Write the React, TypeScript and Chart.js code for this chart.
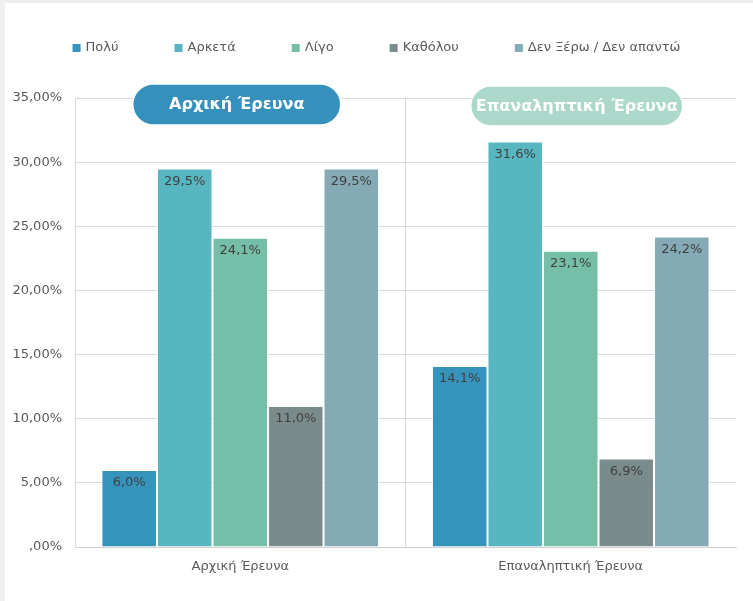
import React, { useEffect, useRef } from 'react';
import { Chart, registerables } from 'chart.js';

Chart.register(...registerables);

// ---- data ----
const categories = ['Αρχική Έρευνα', 'Επαναληπτική Έρευνα'];
const seriesNames = ['Πολύ', 'Αρκετά', 'Λίγο', 'Καθόλου', 'Δεν Ξέρω / Δεν απαντώ'];
const polyValues = [6.0, 14.1];
const arketaValues = [29.5, 31.6];
const ligoValues = [24.1, 23.1];
const katholouValues = [11.0, 6.9];
const denXeroValues = [29.5, 24.2];
const yTickLabels = [',00%', '5,00%', '10,00%', '15,00%', '20,00%', '25,00%', '30,00%', '35,00%'];
const pillTitles = ['Αρχική Έρευνα', 'Επαναληπτική Έρευνα'];

// ---- styles ----
const seriesColors = ['#3593bc', '#58b6c0', '#75bea8', '#7a8b8c', '#84abb5'];
const pillColors = ['#3591bb', '#acd8cc'];
const pillStyle = [
  { dx: -3.5, dy: 6.5, w: 208, h: 41 },
  { dx: 6, dy: 8, w: 212, h: 40 },
];
const FONT = '"DejaVu Sans", sans-serif';
const TEXT = '#595959';
const LABEL = '#404040';
const GRID = '#d9d9d9';

const fmt = (v: number) => v.toFixed(1).replace('.', ',') + '%';

function pillPath(ctx: CanvasRenderingContext2D, x: number, y: number, w: number, h: number) {
  const r = h / 2;
  ctx.beginPath();
  ctx.moveTo(x + r, y);
  ctx.lineTo(x + w - r, y);
  ctx.arc(x + w - r, y + r, r, -Math.PI / 2, Math.PI / 2);
  ctx.lineTo(x + r, y + h);
  ctx.arc(x + r, y + r, r, Math.PI / 2, (3 * Math.PI) / 2);
  ctx.closePath();
}

const overlayPlugin = {
  id: 'overlay',
  afterDatasetsDraw(chart: any) {
    const ctx = chart.ctx as CanvasRenderingContext2D;
    ctx.save();
    // data labels
    ctx.font = '13px ' + FONT;
    ctx.fillStyle = LABEL;
    ctx.textAlign = 'center';
    ctx.textBaseline = 'middle';
    chart.data.datasets.forEach((ds: any, di: number) => {
      const meta = chart.getDatasetMeta(di);
      meta.data.forEach((bar: any, i: number) => {
        ctx.fillText(fmt(ds.data[i]), bar.x, bar.y + 13);
      });
    });
    // pills
    const xs = chart.scales.x;
    const top = chart.chartArea.top;
    pillTitles.forEach((t, i) => {
      const st = pillStyle[i];
      const cx = xs.getPixelForValue(i) + st.dx;
      const cy = top + st.dy;
      pillPath(ctx, cx - st.w / 2, cy - st.h / 2, st.w, st.h);
      ctx.fillStyle = pillColors[i];
      ctx.fill();
      ctx.strokeStyle = '#ffffff';
      ctx.lineWidth = 1.5;
      ctx.stroke();
      ctx.fillStyle = '#ffffff';
      ctx.font = 'bold 16px ' + FONT;
      ctx.fillText(t, cx, cy + 0.5);
    });
    // legend
    ctx.font = '13px ' + FONT;
    const box = 8;
    const gapBT = 5;
    const gapItems = 56;
    const widths = seriesNames.map((n) => box + gapBT + ctx.measureText(n).width);
    const total = widths.reduce((a, b) => a + b, 0) + gapItems * (widths.length - 1);
    let x = chart.width / 2 - total / 2;
    const ly = 48;
    ctx.textAlign = 'left';
    seriesNames.forEach((n, i) => {
      ctx.fillStyle = seriesColors[i];
      ctx.fillRect(x, ly - box / 2, box, box);
      ctx.fillStyle = TEXT;
      ctx.fillText(n, x + box + gapBT, ly);
      x += widths[i] + gapItems;
    });
    ctx.restore();
  },
};

export default function App() {
  const ref = useRef<HTMLCanvasElement>(null);
  useEffect(() => {
    if (!ref.current) return;
    const seriesValues = [polyValues, arketaValues, ligoValues, katholouValues, denXeroValues];
    const chart = new Chart(ref.current, {
      type: 'bar',
      data: {
        labels: categories,
        datasets: seriesNames.map((name, i) => ({
          label: name,
          data: seriesValues[i],
          backgroundColor: seriesColors[i],
          borderColor: '#ffffff',
          borderWidth: 1,
          categoryPercentage: 0.84,
          barPercentage: 1,
        })),
      },
      options: {
        responsive: false,
        animation: false,
        events: [],
        layout: { padding: { left: 0, right: 17, top: 98, bottom: 0 } },
        plugins: {
          legend: { display: false },
          tooltip: { enabled: false },
        },
        scales: {
          x: {
            grid: {
              offset: true,
              drawTicks: false,
              color: (c: any) => (c.type === 'tick' && c.index < categories.length ? GRID : 'rgba(0,0,0,0)'),
            },
            border: { color: '#d0d0d0' },
            ticks: { color: TEXT, font: { family: FONT, size: 13 }, padding: 12 },
            afterFit: (s: any) => {
              s.height = 54;
            },
          },
          y: {
            min: 0,
            max: 35,
            ticks: {
              stepSize: 5,
              color: TEXT,
              font: { family: FONT, size: 13 },
              padding: 13,
              callback: (_v: any, idx: number) => yTickLabels[idx],
            },
            grid: { color: GRID, drawTicks: false },
            border: { color: GRID },
            afterFit: (s: any) => {
              s.width = 75;
            },
          },
        },
      },
      plugins: [overlayPlugin],
    });
    return () => chart.destroy();
  }, []);

  return (
    <div style={{ position: 'absolute', left: 0, top: 0, width: 753, height: 601, background: '#f0f0f0' }}>
      <div style={{ position: 'absolute', left: 5, top: 3, right: 0, bottom: 0, background: '#ffffff' }} />
      <canvas ref={ref} width={753} height={601} style={{ position: 'absolute', left: 0, top: 0 }} />
    </div>
  );
}
